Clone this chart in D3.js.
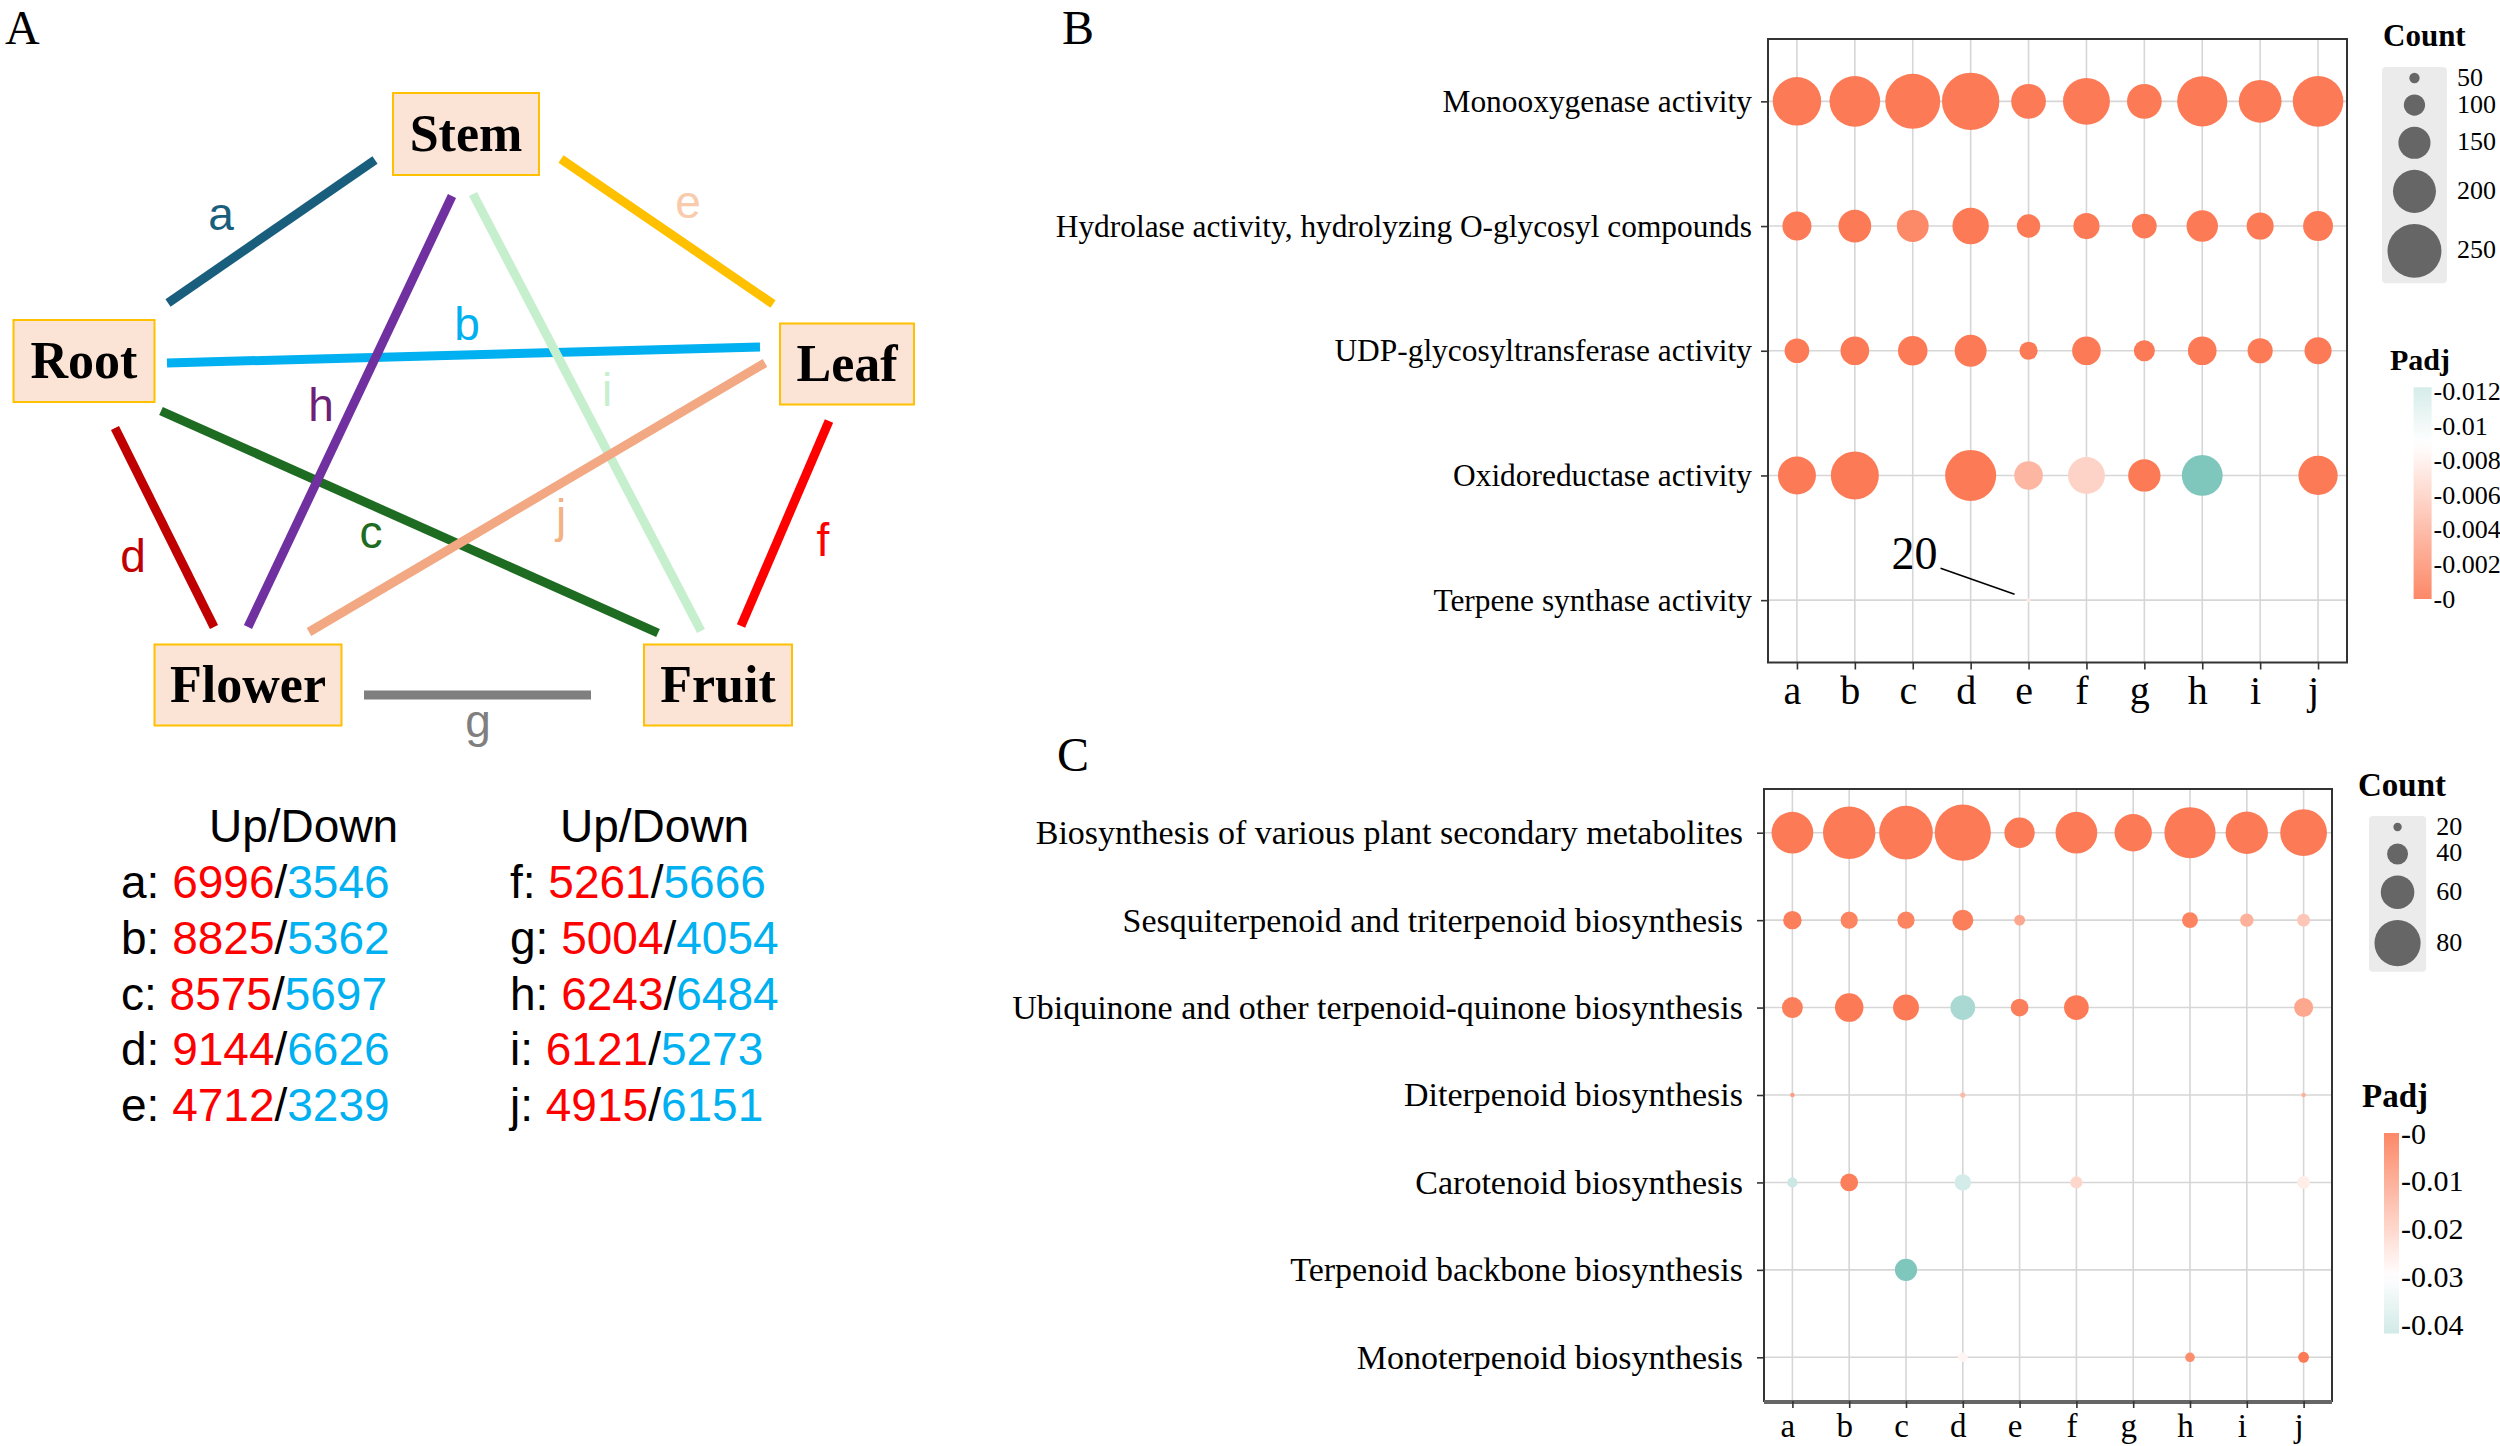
<!DOCTYPE html>
<html><head><meta charset="utf-8">
<script src="https://cdn.jsdelivr.net/npm/d3@7"></script>
<style>body{margin:0;background:#fff} svg{display:block}</style>
</head><body>
<svg id="chart" width="2500" height="1446"></svg>
<script>
// ================= DATA =================
const comparisons = ["a","b","c","d","e","f","g","h","i","j"];
const tissues = ["Stem","Root","Leaf","Flower","Fruit"];
const edgeSource = ["Root","Root","Root","Root","Stem","Leaf","Flower","Stem","Stem","Leaf"];
const edgeTarget = ["Stem","Leaf","Fruit","Flower","Leaf","Fruit","Fruit","Flower","Fruit","Flower"];
const upCounts   = [6996,8825,8575,9144,4712,5261,5004,6243,6121,4915];
const downCounts = [3546,5362,5697,6626,3239,5666,4054,6484,5273,6151];

const goTerms = ["Monooxygenase activity",
  "Hydrolase activity, hydrolyzing O-glycosyl compounds",
  "UDP-glycosyltransferase activity",
  "Oxidoreductase activity",
  "Terpene synthase activity"];
const goCounts = [
  [225,235,255,266,162,218,162,233,199,235],
  [136,153,149,170,110,123,116,147,127,140],
  [116,134,138,149, 86,134, 99,134,118,127],
  [177,223,null,237,134,172,151,190,null,183],
  [null,null,null,null,20,null,null,null,null,null]];
const goPadj = [
  [0,0,0,0,0,0,0,0,0,0],
  [0,0,0.001,0,0,0,0,0,0,0],
  [0,0,0,0,0,0,0,0,0,0],
  [0,0,null,0,0.004,0.006,0,0.018,null,0],
  [null,null,null,null,0.0075,null,null,null,null,null]];
const goCountBreaks = [50,100,150,200,250];
const goPadjBreaks = [0,0.002,0.004,0.006,0.008,0.01,0.012];
const goPadjLabels = ["-0","-0.002","-0.004","-0.006","-0.008","-0.01","-0.012"];

const keggTerms = ["Biosynthesis of various plant secondary metabolites",
  "Sesquiterpenoid and triterpenoid biosynthesis",
  "Ubiquinone and other terpenoid-quinone biosynthesis",
  "Diterpenoid biosynthesis",
  "Carotenoid biosynthesis",
  "Terpenoid backbone biosynthesis",
  "Monoterpenoid biosynthesis"];
const keggCounts = [
  [73,90,92,96,55,73,66,88,74,81],
  [36,34,34,40,24,null,null,32,28,27],
  [40,52,48,46,35,46,null,null,null,37],
  [14,null,null,15,null,null,null,null,null,14],
  [23,35,null,33,null,26,null,null,null,27],
  [null,null,42,null,null,null,null,null,null,null],
  [null,null,null,22,null,null,null,22,null,24]];
const keggPadj = [
  [0,0,0,0,0,0,0,0,0,0],
  [0.001,0.002,0.002,0.001,0.01,null,null,0.002,0.012,0.017],
  [0.001,0,0,0.05,0.001,0,null,null,null,0.01],
  [0.008,null,null,0.014,null,null,null,null,null,0.012],
  [0.042,0.001,null,0.04,null,0.021,null,null,null,0.026],
  [null,null,0.06,null,null,null,null,null,null,null],
  [null,null,null,0.028,null,null,null,0.004,null,0]];
const keggCountBreaks = [20,40,60,80];
const keggPadjBreaks = [0,0.01,0.02,0.03,0.04];
const keggPadjLabels = ["-0","-0.01","-0.02","-0.03","-0.04"];
const annotationLabel = "20";

// ================= LAYOUT / STYLE =================
const SERIF = "'Liberation Serif','Times New Roman',serif";
const SANS = "'Liberation Sans',Arial,sans-serif";
const CORAL = "#FC7B56", TEAL = "#7FC6BD";

const nodeLayout = {
  Stem:{cx:466,cy:134,w:146,h:82}, Root:{cx:84,cy:361,w:141,h:82},
  Leaf:{cx:847,cy:364,w:134,h:81}, Flower:{cx:248,cy:685,w:187,h:81},
  Fruit:{cx:718,cy:685,w:148,h:81}};
const edgeLayout = {
  a:{p:[[168,303],[375,160]], lab:[221,230]},
  b:{p:[[167,363],[760,347]], lab:[467,340]},
  c:{p:[[161,411],[658,633]], lab:[371,548]},
  d:{p:[[115,428],[214,627]], lab:[133,572]},
  e:{p:[[561,159],[773,304]], lab:[688,218]},
  f:{p:[[829,421],[741,626]], lab:[823,556]},
  g:{p:[[364,695],[591,695]], lab:[478,737]},
  h:{p:[[452,196],[248,627]], lab:[321,421]},
  i:{p:[[473,194],[701,631]], lab:[607,406]},
  j:{p:[[765,363],[309,632]], lab:[561,532]}};
const edgeColor = {a:"#1A5E7E",b:"#00B0F0",c:"#1E6B22",d:"#C00000",e:"#FFC000",
  f:"#FF0000",g:"#7F7F7F",h:"#7030A0",i:"#C6EFCE",j:"#F2A983"};
const edgeLabelColor = {a:"#1A5E7E",b:"#00B0F0",c:"#1E6B22",d:"#C00000",e:"#F8CBAD",
  f:"#FF0000",g:"#7F7F7F",h:"#6E1F78",i:"#C6EFCE",j:"#F4B183"};

const svg = d3.select("#chart");

// ================= PANEL A =================
const gA = svg.append("g");
gA.append("text").attr("x",5).attr("y",44).attr("font-family",SERIF)
  .attr("font-size",48).text("A");

const edges = comparisons.map((c,i)=>({id:c, s:edgeSource[i], t:edgeTarget[i]}));
gA.selectAll("line.edge").data(edges).join("line").attr("class","edge")
  .attr("x1",d=>edgeLayout[d.id].p[0][0]).attr("y1",d=>edgeLayout[d.id].p[0][1])
  .attr("x2",d=>edgeLayout[d.id].p[1][0]).attr("y2",d=>edgeLayout[d.id].p[1][1])
  .attr("stroke",d=>edgeColor[d.id]).attr("stroke-width",9);
gA.selectAll("text.elab").data(edges).join("text").attr("class","elab")
  .attr("x",d=>edgeLayout[d.id].lab[0]).attr("y",d=>edgeLayout[d.id].lab[1])
  .attr("text-anchor","middle").attr("font-family",SANS).attr("font-size",46)
  .attr("fill",d=>edgeLabelColor[d.id]).text(d=>d.id);

const nodes = gA.selectAll("g.node").data(tissues).join("g").attr("class","node");
nodes.append("rect")
  .attr("x",d=>nodeLayout[d].cx-nodeLayout[d].w/2).attr("y",d=>nodeLayout[d].cy-nodeLayout[d].h/2)
  .attr("width",d=>nodeLayout[d].w).attr("height",d=>nodeLayout[d].h)
  .attr("fill","#FBE3D5").attr("stroke","#FFC000").attr("stroke-width",2);
nodes.append("text").attr("x",d=>nodeLayout[d].cx).attr("y",d=>nodeLayout[d].cy+17)
  .attr("text-anchor","middle").attr("font-family",SERIF).attr("font-weight","bold")
  .attr("font-size",52).text(d=>d);

// Up/Down table
const tableCols = [{hx:209, rx:121, idx:[0,1,2,3,4]},{hx:560, rx:510, idx:[5,6,7,8,9]}];
tableCols.forEach(col=>{
  gA.append("text").attr("x",col.hx).attr("y",842).attr("font-family",SANS)
    .attr("font-size",46).text("Up/Down");
  col.idx.forEach((k,r)=>{
    const t = gA.append("text").attr("x",col.rx).attr("y",898+r*55.8)
      .attr("font-family",SANS).attr("font-size",46);
    t.append("tspan").attr("fill","#000").text(comparisons[k]+": ");
    t.append("tspan").attr("fill","#FF0000").text(upCounts[k]);
    t.append("tspan").attr("fill","#000").text("/");
    t.append("tspan").attr("fill","#00B0F0").text(downCounts[k]);
  });
});

// ================= BUBBLE PANELS =================
function bubblePanel(o){
  const g = svg.append("g");
  const x = d3.scalePoint().domain(comparisons).range([o.left,o.right]).padding(0.5);
  const y = d3.scalePoint().domain(o.terms).range([o.top,o.bottom]).padding(0.5);
  const all = o.counts.flat().filter(v=>v!=null);
  const r = d3.scaleLinear().domain(d3.extent(all)).range(o.rRange);
  const col = d3.scaleLinear().domain(o.colDomain).range([CORAL,"#FFFFFF",TEAL]).clamp(true);

  g.append("text").attr("x",o.letter[0]).attr("y",o.letter[1]).attr("font-family",SERIF)
    .attr("font-size",48).text(o.letterText);

  // grid
  g.selectAll("line.gx").data(comparisons).join("line").attr("class","gx")
    .attr("x1",d=>x(d)).attr("x2",d=>x(d)).attr("y1",o.top).attr("y2",o.bottom)
    .attr("stroke","#D6D6D6").attr("stroke-width",1.6);
  g.selectAll("line.gy").data(o.terms).join("line").attr("class","gy")
    .attr("y1",d=>y(d)).attr("y2",d=>y(d)).attr("x1",o.left).attr("x2",o.right)
    .attr("stroke","#D6D6D6").attr("stroke-width",1.6);

  // points
  const pts=[];
  o.terms.forEach((t,i)=>comparisons.forEach((c,j)=>{
    const v=o.counts[i][j]; if(v!=null) pts.push({t,c,v,p:o.padj[i][j]});
  }));
  g.selectAll("circle.pt").data(pts).join("circle").attr("class","pt")
    .attr("cx",d=>x(d.c)).attr("cy",d=>y(d.t)).attr("r",d=>r(d.v))
    .attr("fill",d=>col(d.p));

  // frame
  g.append("rect").attr("x",o.left).attr("y",o.top).attr("width",o.right-o.left)
    .attr("height",o.bottom-o.top).attr("fill","none").attr("stroke","#333").attr("stroke-width",2);
  if(o.thickBottom) g.append("line").attr("x1",o.left).attr("x2",o.right)
    .attr("y1",o.bottom+1).attr("y2",o.bottom+1).attr("stroke","#666").attr("stroke-width",4);

  // axes
  const ya = g.append("g").attr("transform",`translate(${o.left},0)`)
    .call(d3.axisLeft(y).tickSize(7).tickPadding(o.yPad));
  ya.select(".domain").remove();
  ya.selectAll(".tick line").attr("stroke","#333").attr("stroke-width",1.6);
  ya.selectAll(".tick text").attr("font-family",SERIF).attr("font-size",o.yFont).attr("fill","#000");
  const xa = g.append("g").attr("transform",`translate(0,${o.bottom})`)
    .call(d3.axisBottom(x).tickSize(7).tickPadding(o.xPad));
  xa.select(".domain").remove();
  xa.selectAll(".tick line").attr("stroke","#333").attr("stroke-width",1.6);
  xa.selectAll(".tick text").attr("font-family",SERIF).attr("font-size",o.xFont).attr("fill","#000")
    .attr("dx",-5);

  // size legend
  const L=o.sizeLeg;
  g.append("text").attr("x",L.tx).attr("y",L.ty).attr("font-family",SERIF)
    .attr("font-weight","bold").attr("font-size",L.tf).text("Count");
  const rmax = r(d3.max(o.countBreaks));
  const kw = 2*rmax+11;
  let yy=L.top; const keys=o.countBreaks.map(b=>{const h=Math.max(22,2*r(b)+11);const k={b,cy:yy+h/2};yy+=h;return k;});
  g.append("rect").attr("x",L.left).attr("y",L.top).attr("width",kw).attr("height",yy-L.top)
    .attr("rx",4).attr("fill","#EBEBEB");
  g.selectAll("circle.lk").data(keys).join("circle").attr("class","lk")
    .attr("cx",L.left+kw/2).attr("cy",d=>d.cy).attr("r",d=>r(d.b)).attr("fill","#666");
  g.selectAll("text.lk").data(keys).join("text").attr("class","lk")
    .attr("x",L.left+kw+10).attr("y",d=>d.cy-1).attr("dominant-baseline","central")
    .attr("font-family",SERIF).attr("font-size",26).text(d=>d.b);

  // colour legend
  const C=o.colLeg;
  g.append("text").attr("x",C.tx).attr("y",C.ty).attr("font-family",SERIF)
    .attr("font-weight","bold").attr("font-size",C.tf).text("Padj");
  const yc = d3.scaleLinear().domain([0,C.refV]).range([C.y0,C.yRef]);
  const gid="grad"+o.letterText;
  const grad=svg.append("defs").append("linearGradient").attr("id",gid)
    .attr("x1",0).attr("x2",0).attr("y1",0).attr("y2",1);
  const y1=yc(0), y2=yc(C.barMax), top=Math.min(y1,y2), bot=Math.max(y1,y2);
  d3.range(0,1.0001,0.05).forEach(f=>{
    const yPix=top+f*(bot-top); const v=yc.invert(yPix);
    grad.append("stop").attr("offset",f).attr("stop-color",col(v)).attr("stop-opacity",C.alpha);
  });
  g.append("rect").attr("x",C.x).attr("y",top).attr("width",C.w).attr("height",bot-top)
    .attr("fill",`url(#${gid})`);
  g.selectAll("text.cl").data(o.padjBreaks).join("text").attr("class","cl")
    .attr("x",C.x+C.w+2).attr("y",d=>yc(d)).attr("dominant-baseline","central")
    .attr("font-family",SERIF).attr("font-size",C.lf).text((d,i)=>o.padjLabels[i]);
  return {g,x,y};
}

const B = bubblePanel({
  letterText:"B", letter:[1062,44], terms:goTerms, counts:goCounts, padj:goPadj,
  left:1768, right:2347, top:39, bottom:662.5, rRange:[1.9,28.7],
  colDomain:[0,0.009,0.018], yFont:31.4, xFont:40, yPad:9, xPad:6,
  countBreaks:goCountBreaks, padjBreaks:goPadjBreaks, padjLabels:goPadjLabels,
  sizeLeg:{tx:2383,ty:46,tf:31,left:2382,top:67},
  colLeg:{tx:2390,ty:370,tf:30,x:2413.6,w:18,y0:599,yRef:391.6,refV:0.012,barMax:0.01225,lf:26,alpha:0.9}
});
// annotation "20"
{
  const px=B.x("e"), py=B.y("Terpene synthase activity");
  B.g.append("text").attr("x",px-137).attr("y",py-31).attr("font-family",SERIF)
    .attr("font-size",46).text(annotationLabel);
  B.g.append("line").attr("x1",px-88).attr("y1",py-32).attr("x2",px-14).attr("y2",py-6)
    .attr("stroke","#000").attr("stroke-width",1.6);
}

const Cp = bubblePanel({
  letterText:"C", letter:[1057,771], terms:keggTerms, counts:keggCounts, padj:keggPadj,
  left:1764, right:2332, top:789, bottom:1401, rRange:[2.3,28.1],
  colDomain:[0,0.03,0.06], yFont:34, xFont:33, yPad:14, xPad:6, thickBottom:true,
  countBreaks:keggCountBreaks, padjBreaks:keggPadjBreaks, padjLabels:keggPadjLabels,
  sizeLeg:{tx:2358,ty:796,tf:33,left:2369,top:816},
  colLeg:{tx:2362,ty:1107,tf:33,x:2384,w:15,y0:1133,yRef:1324,refV:0.04,barMax:0.042,lf:30,alpha:0.9}
});
</script>
</body></html>
